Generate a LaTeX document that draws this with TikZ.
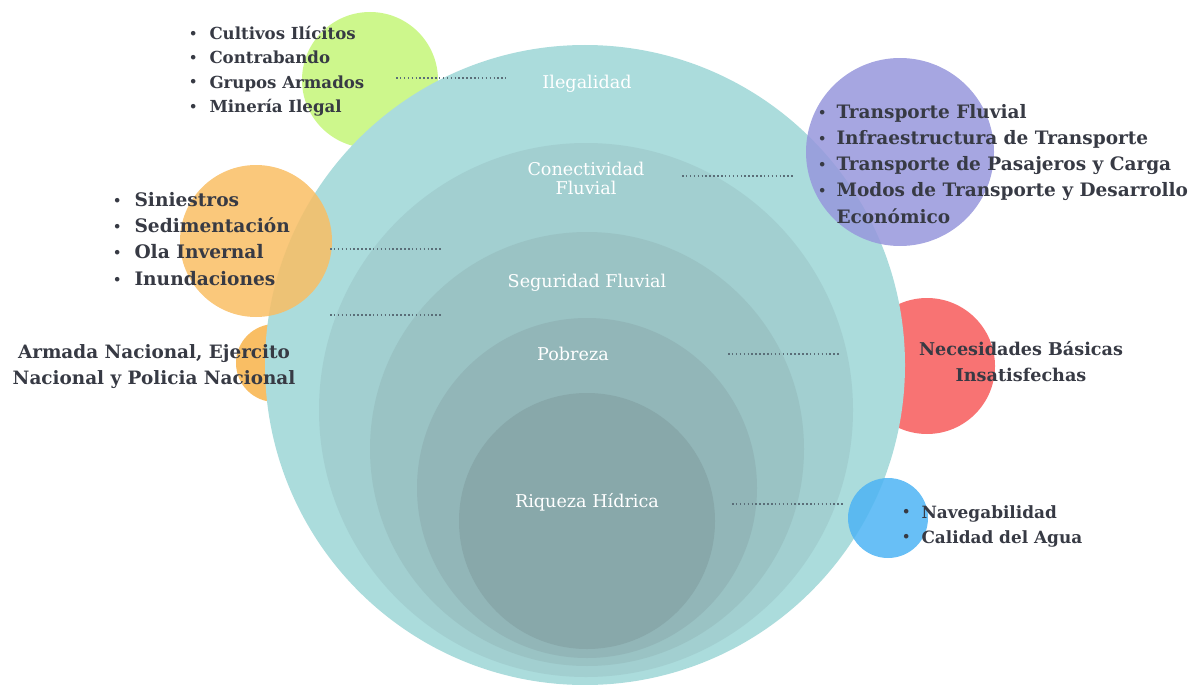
\documentclass[tikz,border=0pt]{standalone}
\usepackage{fontspec}
\setmainfont{DejaVu Serif}
\usetikzlibrary{calc}

\definecolor{texte}{HTML}{373A44}
\definecolor{ligne}{HTML}{5A6E78}
\definecolor{vert}{HTML}{CDF78C}
\definecolor{orange}{HTML}{F9BE64}
\definecolor{violet}{HTML}{9797DC}
\definecolor{rouge}{HTML}{F87373}
\definecolor{bleu}{HTML}{4DB4F4}
\definecolor{niveauA}{HTML}{ABDCDC}
\definecolor{niveauB}{HTML}{A2CFD0}
\definecolor{niveauC}{HTML}{9AC3C4}
\definecolor{niveauD}{HTML}{92B6B8}
\definecolor{niveauE}{HTML}{88A8AA}

\newcommand{\puce}{\raisebox{1.2pt}{\fontsize{13}{13}\selectfont •}}

\begin{document}
\begin{tikzpicture}[x=1pt, y=-1pt]
  \tikzstyle{titre}=[text=white, font=\fontsize{17.6}{19.5}\selectfont, align=center, inner sep=0];
  \tikzstyle{liste}=[text=texte, anchor=west, inner sep=0];
  \tikzstyle{pointille}=[draw=ligne, line width=1.8pt, dash pattern=on 1.5pt off 2.4pt];
  \tikzstyle{dessus}=[fill opacity=0.85];

  \useasboundingbox (0,0) rectangle (1191,685);

  % bulles derriere
  \fill[vert] (370,80) circle[radius=68pt];
  \fill[orange] (275,363) circle[radius=39pt];
  \fill[rouge] (927,366) circle[radius=68pt];

  % cercles concentriques
  \fill[niveauA] (585,365) circle[radius=320pt];
  \fill[niveauB] (586,410) circle[radius=267pt];
  \fill[niveauC] (587,449) circle[radius=217pt];
  \fill[niveauD] (587,488) circle[radius=170pt];
  \fill[niveauE] (587,521) circle[radius=128pt];

  % bulles dessus
  \fill[orange, dessus] (256,241) circle[radius=76pt];
  \fill[violet, dessus] (900,152) circle[radius=94pt];
  \fill[bleu, dessus] (888,518) circle[radius=40pt];

  \node[titre] (Ileg) at (587,84) {Ilegalidad};
  \node[titre] (Conn) at (586,178.5) {Conectividad\\Fluvial};
  \node[titre] (Segu) at (587,283) {Seguridad Fluvial};
  \node[titre] (Pobr) at (573,354) {Pobreza};
  \node[titre] (Riqu) at (587,502) {Riqueza Hídrica};

  \node[liste, font=\bfseries\fontsize{16.6}{24.3}\selectfont] (L1) at (189,71) {%
    \begin{tabular}{@{}l@{\hspace{12pt}}l@{}}
      \puce & Cultivos Ilícitos\\
      \puce & Contrabando\\
      \puce & Grupos Armados\\
      \puce & Minería Ilegal
    \end{tabular}};
  \node[liste, font=\bfseries\fontsize{18.6}{26.3}\selectfont] (L2) at (113,240.5) {%
    \begin{tabular}{@{}l@{\hspace{13pt}}l@{}}
      \puce & Siniestros\\
      \puce & Sedimentación\\
      \puce & Ola Invernal\\
      \puce & Inundaciones
    \end{tabular}};
  \node[text=texte, font=\bfseries\fontsize{18.4}{26}\selectfont, align=center, inner sep=0] (L3) at (154,367) {Armada Nacional, Ejercito\\Nacional y Policia Nacional};
  \node[liste, font=\bfseries\fontsize{18.5}{26.2}\selectfont] (L4) at (818,165.5) {%
    \begin{tabular}{@{}l@{\hspace{10pt}}l@{}}
      \puce & Transporte Fluvial\\
      \puce & Infraestructura de Transporte\\
      \puce & Transporte de Pasajeros y Carga\\
      \puce & Modos de Transporte y Desarrollo\\
            & Económico
    \end{tabular}};
  \node[text=texte, font=\bfseries\fontsize{17.6}{26}\selectfont, align=center, inner sep=0] (L5) at (1021,362) {Necesidades Básicas\\Insatisfechas};
  \node[liste, font=\bfseries\fontsize{16.9}{25}\selectfont] (L6) at (902,525.5) {%
    \begin{tabular}{@{}l@{\hspace{11pt}}l@{}}
      \puce & Navegabilidad\\
      \puce & Calidad del Agua
    \end{tabular}};

  % pointilles
  \coordinate (A1) at (396,78);  \coordinate (A2) at (506,78);
  \coordinate (B1) at (682,176); \coordinate (B2) at (795,176);
  \coordinate (C1) at (330,249); \coordinate (C2) at (441,249);
  \coordinate (D1) at (330,315); \coordinate (D2) at (441,315);
  \coordinate (E1) at (728,354); \coordinate (E2) at (840,354);
  \coordinate (F1) at (732,504); \coordinate (F2) at (843,504);
  \foreach \S in {A, B, C, D, E, F} {
    \draw[pointille] (\S1) -- (\S2);
  }
\end{tikzpicture}
\end{document}
